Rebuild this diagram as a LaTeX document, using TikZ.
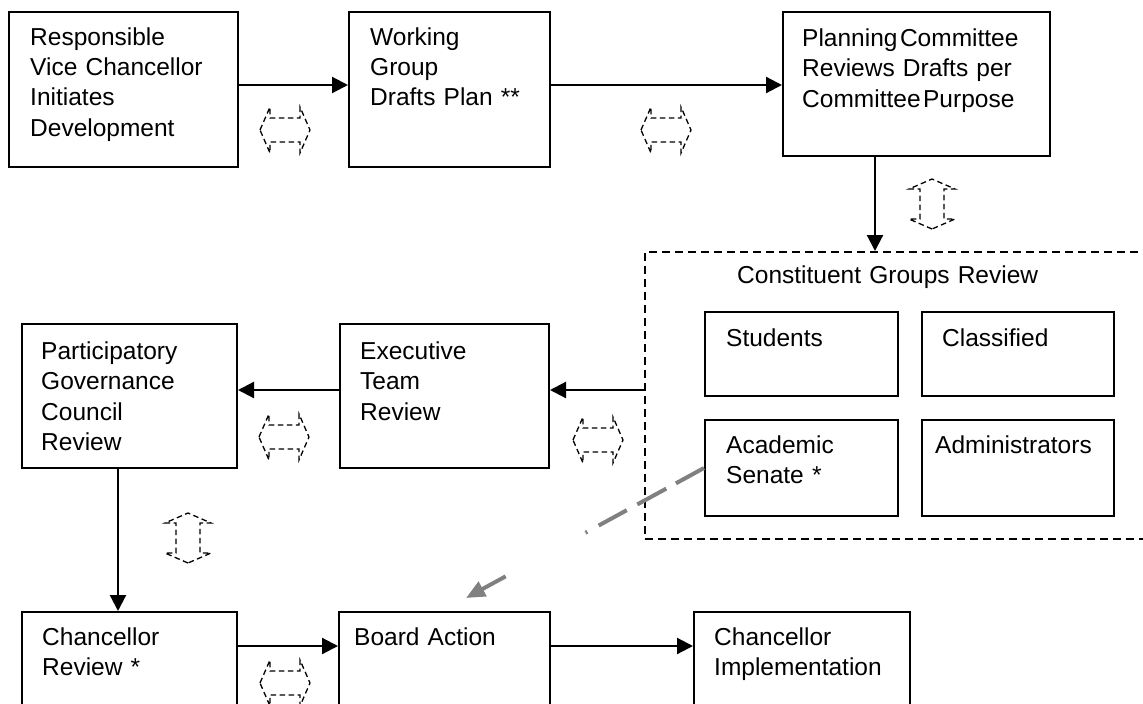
\documentclass[tikz,border=0pt]{standalone}
\usepackage{fontspec}
\setmainfont{Liberation Sans}
\usetikzlibrary{arrows.meta,calc}
\definecolor{linkgray}{RGB}{128,128,128}
\begin{document}
\begin{tikzpicture}[x=1pt,y=-1pt,
  box/.style={draw=black,line width=2pt,inner sep=0pt,anchor=north west},
  grp/.style={draw=black,line width=1.7pt,dash pattern=on 8pt off 5pt,inner sep=0pt,anchor=north west},
  lbl/.style={inner sep=0pt,anchor=base west,text width=420pt,align=left,
              font=\fontsize{24.5}{30.5}\selectfont},
  arr/.style={draw=black,line width=2.2pt,-{Triangle[length=16pt,width=16pt]}},
  garr/.style={draw=linkgray,line width=4pt,
               dash pattern=on 32pt off 11pt on 33pt off 12pt on 32pt off 13pt on 2pt off 91pt on 60pt off 40pt,
               -{Triangle[length=19pt,width=16pt]}},
  hexd/.style={draw=black,line width=1.3pt,dash pattern=on 5.5pt off 3.5pt},
  bidir/.pic={\draw[hexd] (-25,0) -- (-15,-23) -- (-15,-12) -- (15,-12) -- (15,-23)
               -- (25,0) -- (15,23) -- (15,12) -- (-15,12) -- (-15,23) -- cycle;}
]
\useasboundingbox (0,0) rectangle (1143,704);

% top row
\node[box,minimum width=229pt,minimum height=155pt] (b1) at (8,11) {};
\node[lbl] (t1) at (30,45) {Responsible\\Vice Chancellor\\Initiates\\Development};
\node[box,minimum width=201pt,minimum height=155pt] (b2) at (348,11) {};
\node[lbl] (t2) at (370,45) {Working\\Group\\Drafts Plan **};
\node[box,minimum width=267pt,minimum height=144pt] (b3) at (782,11) {};
\node[lbl] (t3) at (802,46) {Planning\hspace{2.5pt}Committee\\Reviews Drafts per\\Committee\hspace{2.5pt}Purpose};

% constituent groups
\node[grp,minimum width=506pt,minimum height=287pt] (cg) at (644,251) {};
\node[lbl] (tcg) at (737,283) {Constituent Groups Review};
\node[box,minimum width=193pt,minimum height=84pt] (st) at (704,311) {};
\node[lbl] (tst) at (726,346) {Students};
\node[box,minimum width=192pt,minimum height=84pt] (cl) at (921,311) {};
\node[lbl] (tcl) at (942,346) {Classified};
\node[box,minimum width=193pt,minimum height=96pt] (as) at (704,419) {};
\node[lbl] (tas) at (726,453) {Academic\\Senate *};
\node[box,minimum width=192pt,minimum height=96pt] (ad) at (921,419) {};
\node[lbl] (tad) at (935,453) {Administrators};

% middle row
\node[box,minimum width=215pt,minimum height=144pt] (pgc) at (21,323) {};
\node[lbl] (tpgc) at (41,359) {Participatory\\Governance\\Council\\Review};
\node[box,minimum width=209pt,minimum height=144pt] (ex) at (339,323) {};
\node[lbl] (tex) at (360,359) {Executive\\Team\\Review};

% bottom row
\node[box,minimum width=215pt,minimum height=120pt] (cr) at (21,611) {};
\node[lbl] (tcr) at (42,645) {Chancellor\\Review *};
\node[box,minimum width=211pt,minimum height=120pt] (ba) at (338,611) {};
\node[lbl] (tba) at (354,645) {Board Action};
\node[box,minimum width=216pt,minimum height=120pt] (ci) at (693,611) {};
\node[lbl] (tci) at (714,645) {Chancellor\\Implementation};

% flow connectors
\coordinate (s1) at ([yshift=4.5pt]b1.east);
\draw[arr] (s1) -- (s1 -| b2.west);
\coordinate (s2) at ([yshift=4.5pt]b2.east);
\draw[arr] (s2) -- (s2 -| b3.west);
\coordinate (s3) at ([xshift=-41.5pt]b3.south);
\draw[arr] (s3) -- (s3 |- cg.north);
\coordinate (s4) at ([yshift=6pt]ex.east);
\draw[arr] (s4 -| cg.west) -- (s4);
\coordinate (s5) at ([yshift=6pt]ex.west);
\draw[arr] (s5) -- (s5 -| pgc.east);
\coordinate (s6) at ([xshift=-11.5pt]pgc.south);
\draw[arr] (s6) -- (s6 |- cr.north);
\coordinate (s7) at ([yshift=-35pt]cr.north east);
\draw[arr] (s7) -- (s7 -| ba.west);
\coordinate (s8) at ([yshift=-35pt]ba.north east);
\draw[arr] (s8) -- (s8 -| ci.west);

% link from the Academic Senate to Board Action
\coordinate (gtip) at ([xshift=128pt,yshift=13pt]ba.north west);
\draw[garr] (as.west) -- (gtip);

% two-way consultation marks
\pic at (285,130) {bidir};
\pic at (666,130) {bidir};
\pic[rotate=90] at (932,204) {bidir};
\pic at (284,437) {bidir};
\pic at (598,440) {bidir};
\pic[rotate=90] at (188,538) {bidir};
\pic at (285,683) {bidir};
\end{tikzpicture}
\end{document}
